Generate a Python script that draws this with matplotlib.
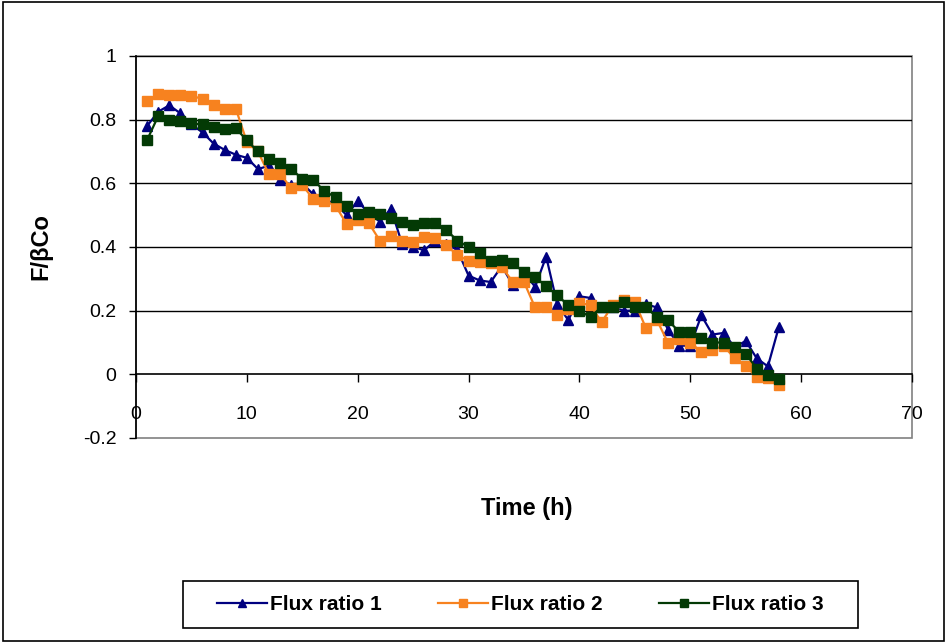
import matplotlib
matplotlib.use("Agg")
import matplotlib.pyplot as plt
from matplotlib.patches import Rectangle
from matplotlib.lines import Line2D

hours = [1, 2, 3, 4, 5, 6, 7, 8, 9, 10,
         11, 12, 13, 14, 15, 16, 17, 18, 19, 20,
         21, 22, 23, 24, 25, 26, 27, 28, 29, 30,
         31, 32, 33, 34, 35, 36, 37, 38, 39, 40,
         41, 42, 43, 44, 45, 46, 47, 48, 49, 50,
         51, 52, 53, 54, 55, 56, 57, 58]

flux1 = [0.78, 0.825, 0.845, 0.82, 0.785, 0.76, 0.725, 0.705, 0.69, 0.68,
         0.645, 0.655, 0.61, 0.595, 0.60, 0.565, 0.55, 0.535, 0.50, 0.545,
         0.505, 0.48, 0.52, 0.41, 0.40, 0.39, 0.42, 0.41, 0.39, 0.31,
         0.295, 0.29, 0.34, 0.28, 0.32, 0.275, 0.37, 0.22, 0.17, 0.245,
         0.24, 0.21, 0.21, 0.20, 0.20, 0.22, 0.21, 0.14, 0.09, 0.09,
         0.185, 0.125, 0.13, 0.085, 0.105, 0.05, 0.025, 0.15]

flux2 = [0.858, 0.88, 0.878, 0.878, 0.875, 0.865, 0.845, 0.835, 0.835, 0.73,
         0.70, 0.628, 0.63, 0.585, 0.595, 0.55, 0.545, 0.53, 0.472, 0.485,
         0.475, 0.42, 0.435, 0.42, 0.415, 0.432, 0.428, 0.405, 0.375, 0.356,
         0.353, 0.35, 0.337, 0.29, 0.29, 0.21, 0.21, 0.186, 0.205, 0.225,
         0.217, 0.164, 0.217, 0.233, 0.227, 0.145, 0.17, 0.098, 0.11, 0.10,
         0.07, 0.075, 0.09, 0.05, 0.025, -0.008, -0.012, -0.035]

flux3 = [0.736, 0.811, 0.80, 0.797, 0.788, 0.785, 0.778, 0.77, 0.773, 0.735,
         0.70, 0.678, 0.663, 0.644, 0.615, 0.61, 0.576, 0.556, 0.53, 0.505,
         0.51, 0.505, 0.49, 0.479, 0.469, 0.476, 0.476, 0.453, 0.42, 0.40,
         0.38, 0.355, 0.36, 0.35, 0.32, 0.305, 0.277, 0.248, 0.217, 0.20,
         0.18, 0.212, 0.212, 0.227, 0.212, 0.21, 0.18, 0.17, 0.133, 0.133,
         0.115, 0.10, 0.10, 0.086, 0.065, 0.018, -0.003, -0.014]

series_names = ["Flux ratio 1", "Flux ratio 2", "Flux ratio 3"]
x_ticks = [0, 10, 20, 30, 40, 50, 60, 70]
y_ticks = [-0.2, 0, 0.2, 0.4, 0.6, 0.8, 1]
y_tick_labels = ["-0.2", "0", "0.2", "0.4", "0.6", "0.8", "1"]

plt.rcParams['font.family'] = ['Liberation Sans', 'DejaVu Sans']

fig = plt.figure(figsize=(9.47, 6.43), dpi=100)
ax = fig.add_axes([136/947, 1 - 438/643, (912 - 136)/947, (438 - 56)/643])

c1, c2, c3 = '#000080', '#F7821F', '#033A05'
ax.plot(hours, flux1, color=c1, lw=1.6, marker='^', ms=7.5, mec=c1, mfc=c1, zorder=3)
ax.plot(hours, flux2, color=c2, lw=1.6, marker='s', ms=7, mec=c2, mfc=c2, zorder=4)
ax.plot(hours, flux3, color=c3, lw=1.6, marker='s', ms=7, mec=c3, mfc=c3, zorder=5)

ax.set_xlim(0, 70)
ax.set_ylim(-0.2, 1)
ax.set_xticks(x_ticks)
ax.set_yticks(y_ticks)
ax.set_yticklabels(y_tick_labels)

for y in [0.2, 0.4, 0.6, 0.8, 1.0]:
    ax.axhline(y, color='black', lw=1.0, zorder=1)

# plot-area border (gray)
ax.add_patch(Rectangle((0, 0), 1, 1, transform=ax.transAxes, fill=False,
                       ec='#808080', lw=1.2, zorder=0.5, clip_on=False))

ax.spines['top'].set_visible(False)
ax.spines['right'].set_visible(False)
ax.spines['bottom'].set_position(('data', 0))
ax.spines['bottom'].set_color('black')
ax.spines['left'].set_color('black')
ax.spines['bottom'].set_linewidth(1.2)
ax.spines['left'].set_linewidth(1.2)

ax.tick_params(axis='x', direction='out', length=6, width=1, pad=17, labelsize=14)
ax.tick_params(axis='y', direction='out', length=5, width=1, pad=9, labelsize=14)

ax.set_ylabel("F/βCo", fontsize=17, fontweight='bold', labelpad=22)
fig.text(527/947, 1 - 509/643, "Time (h)", fontsize=17, fontweight='bold',
         ha='center', va='center')

handles = [Line2D([], [], color=c1, lw=1.6, marker='^', ms=5.5),
           Line2D([], [], color=c2, lw=1.6, marker='s', ms=5.5),
           Line2D([], [], color=c3, lw=1.6, marker='s', ms=5.5)]
leg = fig.legend(handles, series_names, loc='center', ncol=3,
                 bbox_to_anchor=(200/947, 15/643, 640/947, 47/643),
                 mode='expand', frameon=False,
                 prop={'weight': 'bold', 'size': 15}, handlelength=2.4,
                 handletextpad=0.15, borderpad=0.3)

# legend frame
fig.patches.append(Rectangle((183/947, 1 - 628/643), 675/947, 47/643,
                             transform=fig.transFigure, fill=False, ec='black', lw=1.2))

fig.patches.append(Rectangle((0.003, 0.003), 0.994, 0.994, transform=fig.transFigure,
                             fill=False, ec='black', lw=1.2))

fig.savefig("out.png", dpi=100)
